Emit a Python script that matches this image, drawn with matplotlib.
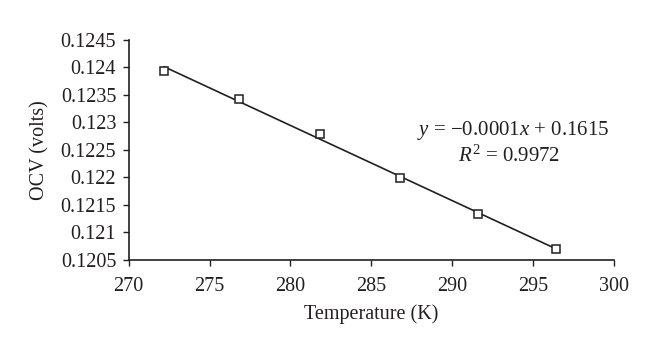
import matplotlib
matplotlib.use('Agg')
import matplotlib.pyplot as plt
import numpy as np

# data
temperature = [272.2, 276.8, 281.8, 286.8, 291.6, 296.4]
ocv = [0.12393, 0.12343, 0.12279, 0.12199, 0.12134, 0.12069]
x_ticks = [270, 275, 280, 285, 290, 295, 300]
y_ticks = [0.1205, 0.121, 0.1215, 0.122, 0.1225, 0.123, 0.1235, 0.124, 0.1245]
y_tick_labels = ['0.1205', '0.121', '0.1215', '0.122', '0.1225', '0.123', '0.1235', '0.124', '0.1245']

ink = '#231f20'
plt.rcParams['font.family'] = ['Liberation Serif', 'DejaVu Serif']
plt.rcParams['mathtext.fontset'] = 'custom'
plt.rcParams['mathtext.it'] = 'Liberation Serif:italic'
plt.rcParams['mathtext.rm'] = 'Liberation Serif'

fig = plt.figure(figsize=(6.6, 3.56), dpi=100)
ax = fig.add_axes([0.195, 0.27, 0.735, 0.618])

# linear trend line over the data range
slope, intercept = np.polyfit(temperature, ocv, 1)
xs = np.array([temperature[0], temperature[-1]])
ax.plot(xs, slope * xs + intercept, color=ink, lw=1.2)

ax.plot(temperature, ocv, linestyle='none', marker='s', markersize=5.5,
        markerfacecolor='white', markeredgecolor=ink, markeredgewidth=1.1)

ax.set_xlim(270, 300)
ax.set_ylim(0.1205, 0.1245)
ax.set_xticks(x_ticks)
ax.set_yticks(y_ticks)
ax.set_yticklabels(y_tick_labels)

for s in ['top', 'right']:
    ax.spines[s].set_visible(False)
for s in ['left', 'bottom']:
    ax.spines[s].set_color(ink)
    ax.spines[s].set_linewidth(1.2)
ax.tick_params(colors=ink, labelsize=14.5, length=4, width=1.0, direction='out')
ax.tick_params(axis='x', pad=8)
ax.tick_params(axis='y', pad=5)

ax.set_xlabel('Temperature (K)', fontsize=14.5, color=ink, labelpad=6)
ax.set_ylabel('OCV (volts)', fontsize=14.5, color=ink, labelpad=8)

ax.text(0.792, 0.588, '$y$ = \u22120.0001$x$ + 0.1615', transform=ax.transAxes,
        ha='center', va='center', fontsize=15, color=ink)
ax.text(0.785, 0.472, '$R^2$ = 0.9972', transform=ax.transAxes,
        ha='center', va='center', fontsize=15, color=ink)

fig.savefig('out.png', dpi=100, facecolor='white')
